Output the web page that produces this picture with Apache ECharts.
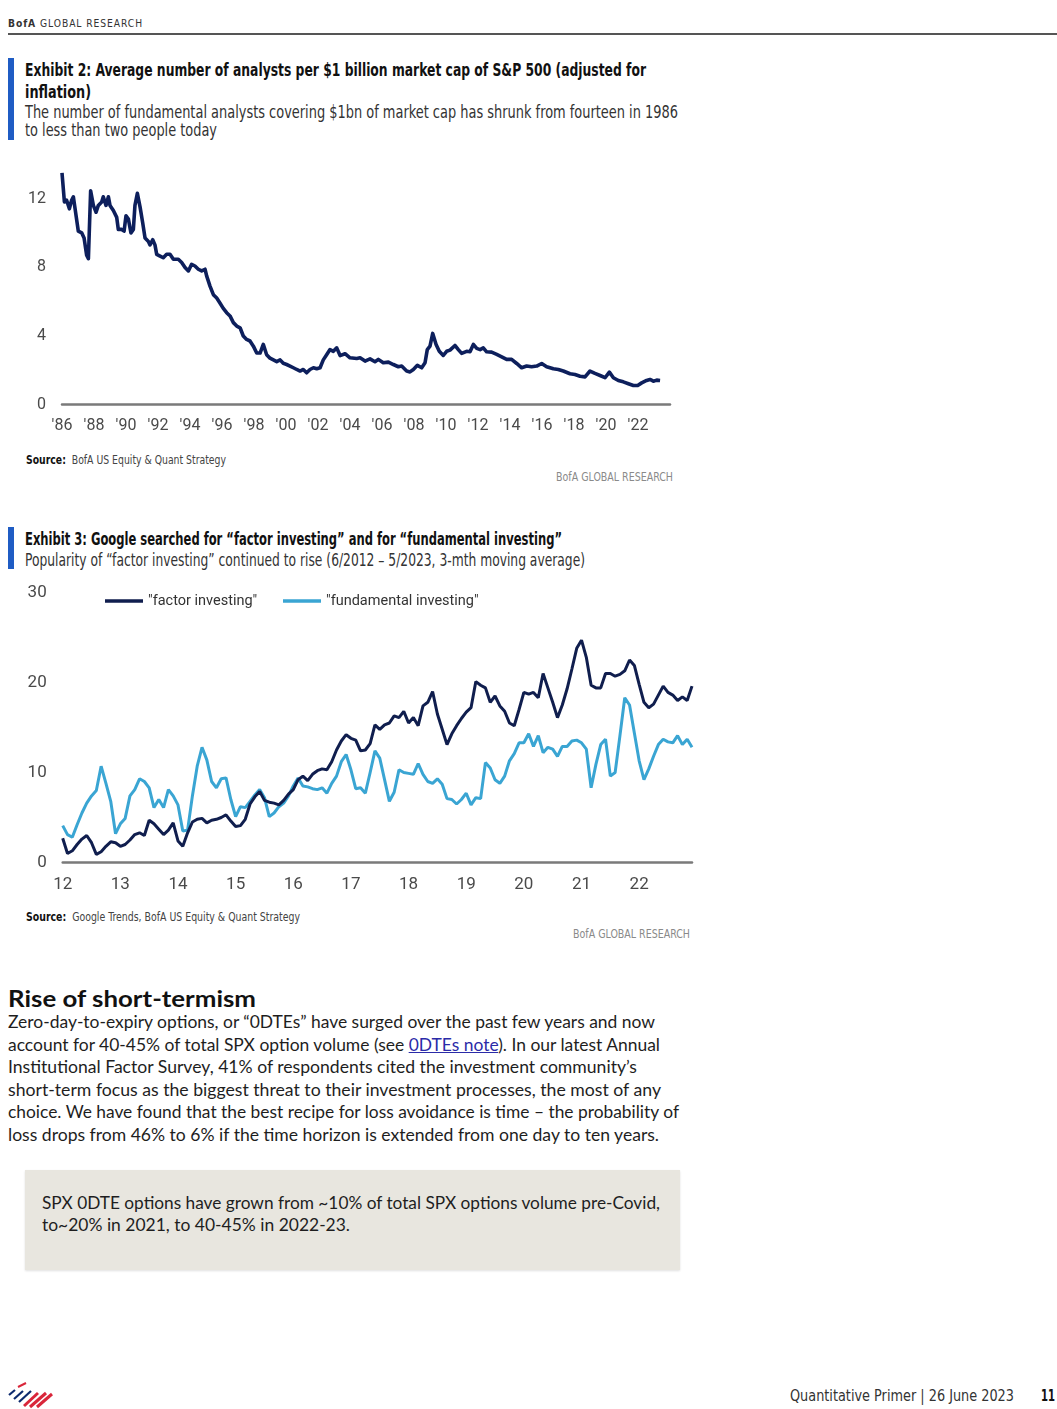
<!DOCTYPE html>
<html><head><meta charset="utf-8">
<script src="https://cdn.jsdelivr.net/npm/echarts@6/dist/echarts.min.js"></script>
<style>
html,body{margin:0;padding:0;background:#fff;}
body{width:1057px;height:1409px;position:relative;overflow:hidden;font-family:Lato,'Open Sans',sans-serif;color:#222;}
.abs{position:absolute;white-space:nowrap;transform-origin:0 50%;}
.cond{font-family:'Liberation Sans Narrow','DejaVu Sans Condensed','Roboto Condensed',Roboto,sans-serif;}
.t{font-size:18px;line-height:22px;font-weight:bold;color:#111;}
.s{font-size:17px;line-height:20px;color:#333;}
.src{font-size:12px;line-height:14px;color:#444;}
.wm{font-size:12px;line-height:14px;color:#8a8a8a;}
.p{font-size:17px;line-height:22px;color:#1e1e1e;}
.bar{position:absolute;left:8px;width:6px;background:#1f5cc4;}
a{color:#2b2ba8;text-decoration:underline;}
</style></head><body>

<div class="abs cond" style="left:8px;top:17px;font-size:11px;line-height:13px;letter-spacing:1px;color:#333;" data-w="135"><b>BofA</b> GLOBAL RESEARCH</div>
<div style="position:absolute;left:8px;right:0;top:33px;height:2px;background:#555;"></div>

<div class="bar" style="top:58px;height:82px;"></div>
<div class="abs cond t" style="left:25px;top:59px;" data-w="621">Exhibit 2: Average number of analysts per $1 billion market cap of S&amp;P 500 (adjusted for</div>
<div class="abs cond t" style="left:25px;top:81px;" data-w="66">inflation)</div>
<div class="abs cond s" style="left:25px;top:102px;" data-w="653">The number of fundamental analysts covering $1bn of market cap has shrunk from fourteen in 1986</div>
<div class="abs cond s" style="left:25px;top:120px;" data-w="192">to less than two people today</div>

<div id="c1" style="position:absolute;left:0;top:150px;width:700px;height:300px;"></div>

<div class="abs cond src" style="left:26px;top:453px;" data-w="200"><b style="color:#111">Source:</b>&nbsp; BofA US Equity &amp; Quant Strategy</div>
<div class="abs cond wm" style="left:556px;top:470px;" data-w="117">BofA GLOBAL RESEARCH</div>

<div class="bar" style="top:527px;height:42px;"></div>
<div class="abs cond t" style="left:25px;top:528px;" data-w="537">Exhibit 3: Google searched for “factor investing” and for “fundamental investing”</div>
<div class="abs cond s" style="left:25px;top:550px;" data-w="560">Popularity of “factor investing” continued to rise (6/2012 – 5/2023, 3-mth moving average)</div>

<div id="c2" style="position:absolute;left:0;top:570px;width:720px;height:330px;"></div>

<div class="abs cond src" style="left:26px;top:910px;" data-w="274"><b style="color:#111">Source:</b>&nbsp; Google Trends, BofA US Equity &amp; Quant Strategy</div>
<div class="abs cond wm" style="left:573px;top:927px;" data-w="117">BofA GLOBAL RESEARCH</div>

<div class="abs" style="left:8px;top:984px;font-size:23px;line-height:28px;font-weight:bold;color:#111;" data-w="248">Rise of short-termism</div>
<div class="abs p" style="left:8px;top:1011px;" data-w="647">Zero-day-to-expiry options, or “0DTEs” have surged over the past few years and now</div>
<div class="abs p" style="left:8px;top:1034px;" data-w="652">account for 40-45% of total SPX option volume (see <a>0DTEs note</a>). In our latest Annual</div>
<div class="abs p" style="left:8px;top:1056px;" data-w="629">Institutional Factor Survey, 41% of respondents cited the investment community’s</div>
<div class="abs p" style="left:8px;top:1079px;" data-w="653">short-term focus as the biggest threat to their investment processes, the most of any</div>
<div class="abs p" style="left:8px;top:1101px;" data-w="671">choice. We have found that the best recipe for loss avoidance is time – the probability of</div>
<div class="abs p" style="left:8px;top:1124px;" data-w="651">loss drops from 46% to 6% if the time horizon is extended from one day to ten years.</div>

<div style="position:absolute;left:25px;top:1170px;width:655px;height:100px;background:#e8e6df;box-shadow:0 1px 2px rgba(0,0,0,0.12);"></div>
<div class="abs p" style="left:42px;top:1192px;" data-w="618">SPX 0DTE options have grown from ~10% of total SPX options volume pre-Covid,</div>
<div class="abs p" style="left:42px;top:1214px;" data-w="308">to~20% in 2021, to 40-45% in 2022-23.</div>

<svg style="position:absolute;left:6px;top:1381px;" width="48" height="28" viewBox="0 0 48 28">
  <g stroke-linecap="butt">
    <line x1="3" y1="14" x2="9" y2="9" stroke="#0d2a6e" stroke-width="2.2"/>
    <line x1="8" y1="18" x2="17" y2="10" stroke="#0d2a6e" stroke-width="2.2"/>
    <line x1="13" y1="21" x2="25" y2="10" stroke="#0d2a6e" stroke-width="2.2"/>
    <line x1="18" y1="25" x2="32" y2="12" stroke="#d9263a" stroke-width="3"/>
    <line x1="24" y1="26" x2="40" y2="12" stroke="#d9263a" stroke-width="3"/>
    <line x1="31" y1="26" x2="46" y2="13" stroke="#d9263a" stroke-width="3"/>
    <line x1="12" y1="6" x2="20" y2="2" stroke="#d9263a" stroke-width="2"/>
  </g>
</svg>
<div class="abs cond" style="left:790px;top:1387px;font-size:15px;line-height:18px;color:#333;" data-w="224">Quantitative Primer | 26 June 2023</div>
<div class="abs cond" style="left:1041px;top:1387px;font-size:15px;line-height:18px;font-weight:bold;color:#111;" data-w="14">11</div>

<script>
// ---------- Exhibit 2 data ----------
const analystYears = [
  1986.00,1986.15,1986.29,1986.46,1986.60,1986.71,1986.88,1987.02,1987.23,1987.38,
  1987.54,1987.65,1987.79,1987.96,1988.13,1988.27,1988.48,1988.58,1988.75,1988.90,
  1989.00,1989.21,1989.42,1989.52,1989.73,1989.88,1990.00,1990.15,1990.31,1990.46,
  1990.56,1990.71,1990.88,1991.04,1991.19,1991.40,1991.50,1991.67,1991.81,1991.92,
  1992.13,1992.33,1992.54,1992.75,1992.96,1993.27,1993.48,1993.69,1993.90,1994.10,
  1994.31,1994.52,1994.73,1994.94,1995.04,1995.25,1995.46,1995.67,1995.88,1996.08,
  1996.29,1996.50,1996.71,1996.92,1997.13,1997.33,1997.54,1997.75,1997.96,1998.17,
  1998.38,1998.58,1998.79,1999.00,1999.21,1999.42,1999.63,1999.83,2000.04,2000.25,
  2000.46,2000.67,2000.88,2001.08,2001.29,2001.50,2001.71,2001.92,2002.13,2002.33,
  2002.54,2002.75,2002.96,2003.17,2003.38,2003.69,2004.00,2004.42,2004.63,2004.94,
  2005.25,2005.56,2005.77,2006.08,2006.40,2006.71,2007.02,2007.23,2007.54,2007.75,
  2007.96,2008.21,2008.48,2008.69,2008.83,2009.00,2009.17,2009.38,2009.58,2009.83,
  2010.04,2010.25,2010.56,2010.77,2010.98,2011.29,2011.50,2011.71,2011.92,2012.13,
  2012.33,2012.54,2012.85,2013.17,2013.48,2013.79,2014.10,2014.42,2014.73,2015.04,
  2015.35,2015.67,2015.98,2016.29,2016.71,2017.02,2017.33,2017.75,2018.06,2018.38,
  2018.69,2019.00,2019.31,2019.63,2019.94,2020.21,2020.46,2020.77,2021.08,2021.40,
  2021.71,2021.98,2022.23,2022.54,2022.75,2022.96,2023.17,2023.38
];
const analystsPerBn = [
  13.5,11.8,11.9,11.4,11.9,12.1,11.0,10.1,10.0,9.7,
  8.7,8.5,12.45,11.6,11.2,11.6,11.8,12.1,11.6,12.1,
  11.6,11.3,10.9,10.2,10.2,10.1,11.0,10.8,10.0,10.2,
  11.6,12.3,11.5,10.6,9.7,9.5,9.3,9.6,9.3,8.75,
  8.65,8.55,8.75,8.75,8.46,8.46,8.27,7.98,7.78,8.17,
  8.07,7.88,7.78,7.88,7.49,6.9,6.4,6.2,5.9,5.6,
  5.35,5.16,4.77,4.57,4.47,3.99,3.79,3.7,3.4,3.0,
  3.0,3.5,2.9,2.7,2.6,2.5,2.6,2.4,2.33,2.24,
  2.14,2.04,1.95,2.04,1.85,2.04,2.14,2.08,2.14,2.6,
  2.9,3.2,3.1,3.3,2.85,2.96,2.72,2.68,2.72,2.53,
  2.66,2.49,2.63,2.43,2.47,2.33,2.2,2.24,1.95,1.9,
  2.04,2.28,2.14,2.43,3.2,3.4,4.14,3.5,3.1,2.86,
  3.1,3.17,3.44,3.2,2.98,3.1,3.07,3.5,3.27,3.2,
  3.3,3.07,3.05,2.92,2.78,2.63,2.63,2.39,2.14,2.24,
  2.2,2.24,2.39,2.2,2.08,2.04,1.95,1.79,1.75,1.65,
  1.61,1.95,1.81,1.69,1.56,1.89,1.56,1.4,1.32,1.21,
  1.11,1.11,1.26,1.4,1.46,1.36,1.42,1.4
];
const yTicks1 = [0, 4, 8, 12];

// ---------- Exhibit 3 data (monthly, 6/2012 - 5/2023) ----------
const yearTickLabels2 = ['12','13','14','15','16','17','18','19','20','21','22'];
const seriesNames2 = ['"factor investing"', '"fundamental investing"'];
const factorInvesting = [
  2.7,1.0,1.3,2.0,2.6,3.0,2.2,0.9,1.2,1.8,2.3,2.2,
  1.8,2.0,2.5,3.1,3.3,3.0,4.7,4.3,3.7,3.1,3.6,4.4,
  2.4,1.8,3.3,4.5,4.8,4.9,4.4,4.7,4.8,5.0,5.3,4.6,
  4.0,4.1,4.8,6.5,7.3,7.9,6.9,6.7,6.6,6.4,6.9,7.6,
  8.1,9.2,9.6,9.1,9.8,10.2,10.4,10.3,11.2,12.5,13.5,14.2,
  13.8,13.6,12.4,12.5,13.2,15.3,14.8,15.3,15.5,16.3,16.1,16.8,
  15.5,16.1,15.2,17.4,17.8,19.0,16.5,14.8,13.1,14.3,15.2,16.0,
  16.7,17.2,20.1,19.7,19.4,17.8,18.5,17.4,16.8,15.5,15.2,17.0,
  18.9,18.7,18.9,18.3,21.0,19.4,17.8,16.1,17.5,19.3,21.5,23.8,
  24.7,22.8,19.7,19.4,19.4,21.0,21.0,20.7,20.9,21.3,22.5,21.9,
  19.8,17.8,17.2,17.6,18.6,19.6,18.9,18.6,18.0,18.4,18.0,19.6
];
const fundamentalInvesting = [
  4.1,3.1,2.8,4.2,5.5,6.6,7.4,8.0,10.7,8.8,6.8,3.2,
  4.3,4.9,7.4,8.1,9.3,9.0,8.3,6.1,7.0,6.1,8.1,7.4,
  6.4,3.5,3.6,7.4,10.7,12.8,11.4,9.0,8.3,9.3,9.4,7.0,
  5.1,6.2,6.1,6.8,7.5,8.1,7.2,5.1,5.5,6.2,6.6,7.4,
  8.5,9.4,8.5,8.4,8.2,8.1,8.3,7.7,8.8,9.6,11.2,12.0,
  10.3,8.2,8.3,7.7,10.0,12.4,11.6,9.2,6.8,7.8,10.3,10.0,
  9.9,9.8,11.0,9.8,9.0,8.8,9.3,8.7,7.1,7.0,6.5,7.0,
  7.7,6.4,7.2,7.1,11.1,10.5,9.2,8.8,9.6,11.3,12.1,13.3,
  13.3,14.3,12.9,14.1,12.2,12.8,12.6,11.8,12.9,12.9,13.5,13.6,
  13.3,12.6,8.3,10.9,13.1,13.7,9.6,10.0,14.1,18.3,17.5,14.4,
  11.3,9.2,10.4,11.8,13.1,13.7,13.4,13.3,14.1,13.1,13.7,12.8
];
const yTicks2 = [0, 10, 20, 30];

// ---------- text fitting ----------
function fitText(){
  document.querySelectorAll('[data-w]').forEach(el => {
    el.style.transform = 'none';
    const w = el.getBoundingClientRect().width;
    if (w > 0) el.style.transform = 'scaleX(' + (parseFloat(el.dataset.w) / w) + ')';
  });
}
fitText();
if (document.fonts && document.fonts.ready) document.fonts.ready.then(fitText);

const FONT = "Roboto, 'Noto Sans', sans-serif";
const NAVY = '#0d1f5c';
const LIGHT = '#3aa5d3';

// ---------- Chart 1 ----------
const c1 = echarts.init(document.getElementById('c1'), null, {renderer: 'canvas'});
c1.setOption({
  animation: false,
  grid: {left: 62, top: 14.2, width: 608, height: 240.3, containLabel: false},
  xAxis: {
    type: 'value', min: 1986, max: 2024, interval: 2,
    axisLine: {show: true, lineStyle: {color: '#7a7a7a', width: 2.5}},
    axisTick: {show: false}, splitLine: {show: false},
    axisLabel: {
      margin: 13, color: '#4a4a4a', fontSize: 16, fontFamily: FONT,
      formatter: v => (v >= 2024 ? '' : "'" + String(v).slice(2))
    }
  },
  yAxis: {
    type: 'value', min: 0, max: 14, interval: 4,
    axisLine: {show: false}, axisTick: {show: false}, splitLine: {show: false},
    axisLabel: {
      margin: 16, color: '#4a4a4a', fontSize: 16, fontFamily: FONT,
      formatter: v => (yTicks1.indexOf(v) >= 0 ? String(v) : '')
    }
  },
  series: [{
    type: 'line', showSymbol: false,
    data: analystYears.map((y, i) => [y, analystsPerBn[i]]),
    lineStyle: {color: NAVY, width: 3.6, join: 'round'},
    itemStyle: {color: NAVY}
  }]
});

// ---------- Chart 2 ----------
const months2 = [];
for (let i = 0; i < factorInvesting.length; i++) {
  const m = 5 + i; // June 2012 = index 0
  const y = 2012 + Math.floor(m / 12);
  months2.push(y + '-' + String(m % 12 + 1).padStart(2, '0'));
}
const legendText = {color: '#333', fontSize: 14.5, fontFamily: FONT};
const c2 = echarts.init(document.getElementById('c2'), null, {renderer: 'canvas'});
c2.setOption({
  animation: false,
  legend: [
    {data: [seriesNames2[0]], left: 105, top: 23.5, padding: 0, icon: 'rect', itemWidth: 38, itemHeight: 3.5, textStyle: legendText},
    {data: [seriesNames2[1]], left: 283, top: 23.5, padding: 0, icon: 'rect', itemWidth: 38, itemHeight: 3.5, textStyle: legendText}
  ],
  grid: {left: 62.7, top: 22.5, width: 629.3, height: 270, containLabel: false},
  xAxis: {
    type: 'category', data: months2, boundaryGap: false,
    axisLine: {show: true, lineStyle: {color: '#7a7a7a', width: 2.5}},
    axisTick: {show: false}, splitLine: {show: false},
    axisLabel: {
      interval: 11, margin: 14, color: '#4a4a4a', fontSize: 17, fontFamily: FONT,
      formatter: (v, idx) => yearTickLabels2[Math.round(idx / 12)] || ''
    }
  },
  yAxis: {
    type: 'value', min: 0, max: 30, interval: 10,
    axisLine: {show: false}, axisTick: {show: false}, splitLine: {show: false},
    axisLabel: {margin: 16, color: '#4a4a4a', fontSize: 17, fontFamily: FONT,
      formatter: v => (yTicks2.indexOf(v) >= 0 ? String(v) : '')}
  },
  series: [
    {name: seriesNames2[0], type: 'line', showSymbol: false, data: factorInvesting,
     lineStyle: {color: '#101e4e', width: 3}, itemStyle: {color: '#101e4e'}, z: 3},
    {name: seriesNames2[1], type: 'line', showSymbol: false, data: fundamentalInvesting,
     lineStyle: {color: LIGHT, width: 3}, itemStyle: {color: LIGHT}, z: 2}
  ]
});
</script>
</body></html>
